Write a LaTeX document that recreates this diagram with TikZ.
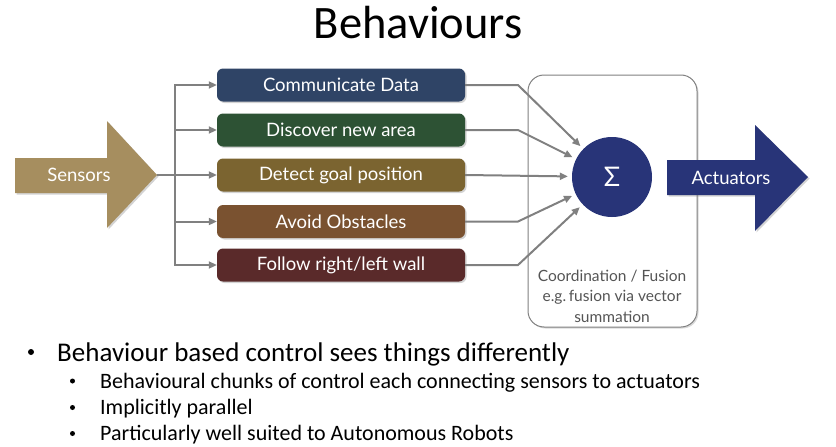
\documentclass[tikz,border=0pt]{standalone}
\usepackage{fontspec}
\setmainfont{Carlito}
\newfontfamily\gill{Lato}
\usetikzlibrary{shadows,arrows.meta,calc}

\definecolor{sensC}{RGB}{166,142,95}
\definecolor{commC}{RGB}{47,68,102}
\definecolor{discC}{RGB}{45,82,52}
\definecolor{detC}{RGB}{123,100,48}
\definecolor{avoidC}{RGB}{122,82,48}
\definecolor{follC}{RGB}{90,42,42}
\definecolor{sumC}{RGB}{40,52,120}
\definecolor{lineC}{RGB}{128,128,128}
\definecolor{noteC}{RGB}{85,85,85}

\tikzset{
  shade/.style={drop shadow={shadow xshift=1.5pt,shadow yshift=-1.5pt,opacity=0.35}},
  behav/.style={shape=rectangle,rounded corners=6pt,minimum width=248pt,minimum height=33pt,
    text=white,font=\gill\fontsize{18.5}{20}\selectfont,inner sep=0pt,shade},
  arr/.style={draw=lineC,line width=2pt,-{Triangle[length=8pt,width=7pt]}},
  wire/.style={draw=lineC,line width=2pt},
  bigarrow/.style={shade},
  lbl/.style={text=white,font=\gill\fontsize{18.5}{20}\selectfont},
  bul/.style={anchor=base west,inner sep=0pt},
  big/.style={font=\fontsize{27}{30}\selectfont},
  small/.style={font=\fontsize{22}{26}\selectfont},
  dot/.style={circle,fill=black,inner sep=0pt,minimum size=#1}
}

\begin{document}
\begin{tikzpicture}[x=1pt,y=-1pt]
\useasboundingbox (0,0) rectangle (836,447);

% title
\node[anchor=base,inner sep=0pt,font=\fontsize{46.5}{50}\selectfont] (title) at (418,38) {Behaviours};

% coordination / fusion frame
\node[draw=lineC,line width=1pt,fill=white,rounded corners=16pt,minimum width=169pt,minimum height=252pt,
      drop shadow={shadow xshift=1.5pt,shadow yshift=-1.5pt,opacity=0.3}] (frame) at (612.5,201) {};
\node[align=center,text=noteC,font=\gill\fontsize{15.5}{20.5}\selectfont] (note) at (612,296)
  {Coordination / Fusion\\e.g.\,fusion via vector\\summation};

% sensors arrow
\fill[sensC,bigarrow] (15,158) -- (107,158) -- (107,121) -- (157,175) -- (107,228) -- (107,193) -- (15,193) -- cycle;
\node[lbl] (sensors) at (79,175) {Sensors};
\coordinate (stip) at (157,175);
\coordinate (branch) at (175,175);

% actuators arrow
\fill[sumC,bigarrow] (667,160) -- (755,160) -- (755,125) -- (808,177) -- (755,231) -- (755,195) -- (667,195) -- cycle;
\node[lbl] (act) at (731,178) {Actuators};

% behaviour boxes
\node[behav,fill=commC]  (b1) at (341,85)  {Communicate Data};
\node[behav,fill=discC]  (b2) at (341,130) {Discover new area};
\node[behav,fill=detC]   (b3) at (341,175) {Detect goal position};
\node[behav,fill=avoidC] (b4) at (341,221.5) {Avoid Obstacles};
\node[behav,fill=follC]  (b5) at (341,265) {Follow right/left wall};

% summation node
\node[circle,fill=sumC,minimum size=80pt,inner sep=0pt,text=white,
      font=\gill\fontsize{27}{30}\selectfont] (sigma) at (612,177) {Σ};

% fan-out from sensors
\draw[wire] (stip) -- (branch);
\foreach \b in {b1,b2,b3,b4,b5}
  \draw[arr] (branch) |- (\b.west);

% fan-in to summation
\coordinate (kx) at (518,0);
\foreach \b in {b1,b2,b4,b5}
  \draw[arr,shorten >=4pt] (\b.east) -- (\b.east -| kx) -- (sigma);
\draw[arr,shorten >=4pt] (b3.east) -- (sigma);

% bullet list
\node[dot=6pt] (d0) at (31,352) {};
\node[bul,big] (t0) at (57,361) {Behaviour based control sees things differently};
\node[dot=5pt] (d1) at (72.5,381) {};
\node[bul,small] (t1) at (100,388) {Behavioural chunks of control each connecting sensors to actuators};
\node[dot=5pt] (d2) at (72.5,407.5) {};
\node[bul,small] (t2) at (100,414) {Implicitly parallel};
\node[dot=5pt] (d3) at (72.5,433.5) {};
\node[bul,small] (t3) at (100,440) {Particularly well suited to Autonomous Robots};
\end{tikzpicture}
\end{document}
